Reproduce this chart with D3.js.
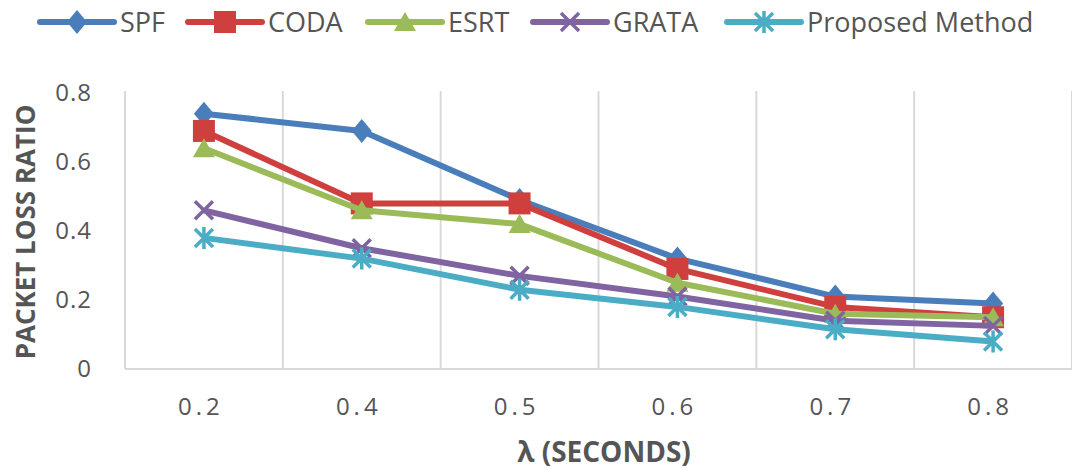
<!DOCTYPE html>
<html>
<head>
<meta charset="utf-8">
<script src="https://cdn.jsdelivr.net/npm/d3@7"></script>
<style>
  body { margin: 0; background: #fff; }
  text { font-family: "Open Sans", "Noto Sans", sans-serif; fill: #555; }
</style>
</head>
<body>
<div id="chart"></div>
<script>
const categories = ["0.2", "0.4", "0.5", "0.6", "0.7", "0.8"]
const seriesNames = ["SPF", "CODA", "ESRT", "GRATA", "Proposed Method"]
const spf = [0.74, 0.69, 0.49, 0.32, 0.21, 0.19]
const coda = [0.69, 0.48, 0.48, 0.29, 0.18, 0.15]
const esrt = [0.64, 0.46, 0.42, 0.25, 0.16, 0.15]
const grata = [0.46, 0.35, 0.27, 0.21, 0.14, 0.125]
const proposed = [0.38, 0.32, 0.23, 0.18, 0.115, 0.08]
const yTicks = [0, 0.2, 0.4, 0.6, 0.8]

const width = 1072, height = 469
const margin = { top: 93, right: 0, bottom: 100, left: 125 }

const svg = d3.select("#chart").append("svg")
    .attr("width", width)
    .attr("height", height)

const x = d3.scaleBand()
    .domain(categories)
    .range([margin.left, width - margin.right])

const y = d3.scaleLinear()
    .domain([0, 0.8])
    .range([height - margin.bottom, margin.top])

// vertical gridlines at band boundaries
svg.append("g")
    .selectAll("line")
    .data(categories)
    .join("line")
    .attr("x1", d => x(d) + x.bandwidth())
    .attr("x2", d => x(d) + x.bandwidth())
    .attr("y1", y(0.8) - 2)
    .attr("y2", y(0))
    .attr("stroke", "#d9d9d9")
    .attr("stroke-width", 2)

svg.append("line")
    .attr("x1", margin.left).attr("x2", margin.left)
    .attr("y1", y(0.8) - 2).attr("y2", y(0))
    .attr("stroke", "#d9d9d9").attr("stroke-width", 2)

// baseline
svg.append("line")
    .attr("x1", margin.left).attr("x2", width)
    .attr("y1", y(0)).attr("y2", y(0))
    .attr("stroke", "#d9d9d9").attr("stroke-width", 2)

// y tick labels
svg.append("g")
    .selectAll("text")
    .data(yTicks)
    .join("text")
    .attr("x", 92)
    .attr("y", d => y(d))
    .attr("dy", "0.35em")
    .attr("text-anchor", "end")
    .style("font-size", "24px")
    .style("letter-spacing", "1px")
    .text(d => d === 0 ? "0" : d.toFixed(1))

// x tick labels
svg.append("g")
    .selectAll("text")
    .data(categories)
    .join("text")
    .attr("x", d => x(d) + x.bandwidth() / 2 - 3)
    .attr("y", 407)
    .attr("dy", "0.35em")
    .attr("text-anchor", "middle")
    .style("font-size", "24px")
    .style("letter-spacing", "4px")
    .text(d => d)

// axis titles
svg.append("text")
    .attr("transform", "translate(26," + ((y(0) + y(0.8)) / 2 + 1) + ") rotate(-90)")
    .attr("text-anchor", "middle")
    .attr("dy", "0.35em")
    .style("font-size", "26px")
    .style("font-weight", "bold")
    .text("PACKET LOSS RATIO")

svg.append("text")
    .attr("x", 604)
    .attr("y", 452)
    .attr("text-anchor", "middle")
    .attr("dy", "0.35em")
    .style("font-size", "28px")
    .style("font-weight", "bold")
    .text("λ (SECONDS)")

const colors = ["#4a7ebb", "#cf3f3d", "#9bbb59", "#8064a2", "#4bacc6"]
const allSeries = [spf, coda, esrt, grata, proposed]

function drawMarker(g, i, cx, cy) {
    const c = colors[i]
    const t = "translate(" + cx + "," + cy + ")"
    if (i === 0) {
        g.append("path").attr("d", "M0,-12L10,0L0,12L-10,0Z")
            .attr("transform", t).attr("fill", c)
    } else if (i === 1) {
        g.append("path").attr("d", "M-11,-11H11V11H-11Z")
            .attr("transform", t).attr("fill", c)
    } else if (i === 2) {
        g.append("path").attr("d", "M0,-10L11,9L-11,9Z")
            .attr("transform", t).attr("fill", c)
    } else if (i === 3) {
        g.append("path").attr("d", "M-9,-9L9,9M-9,9L9,-9")
            .attr("transform", t)
            .attr("stroke", c).attr("stroke-width", 3.5).attr("fill", "none")
    } else {
        g.append("path").attr("d", "M-9,-9L9,9M-9,9L9,-9M0,-11L0,11")
            .attr("transform", t)
            .attr("stroke", c).attr("stroke-width", 3.5).attr("fill", "none")
    }
}

const line = d3.line()
    .x((d, i) => x(categories[i]) + x.bandwidth() / 2)
    .y(d => y(d))

allSeries.forEach((vals, i) => {
    const g = svg.append("g")
    g.append("path")
        .attr("d", line(vals))
        .attr("fill", "none")
        .attr("stroke", colors[i])
        .attr("stroke-width", 6)
        .attr("stroke-linejoin", "round")
    vals.forEach((v, j) => drawMarker(g, i, x(categories[j]) + x.bandwidth() / 2, y(v)))
})

// legend
const legendX = [40, 188, 368, 533, 727]
seriesNames.forEach((name, i) => {
    const g = svg.append("g")
    g.append("line")
        .attr("x1", legendX[i]).attr("x2", legendX[i] + 74)
        .attr("y1", 22).attr("y2", 22)
        .attr("stroke", colors[i]).attr("stroke-width", 6)
        .attr("stroke-linecap", "round")
    drawMarker(g, i, legendX[i] + 37, 22)
    g.append("text")
        .attr("x", legendX[i] + 80)
        .attr("y", 23)
        .attr("dy", "0.35em")
        .style("font-size", "27px")
        .text(name)
})
</script>
</body>
</html>
